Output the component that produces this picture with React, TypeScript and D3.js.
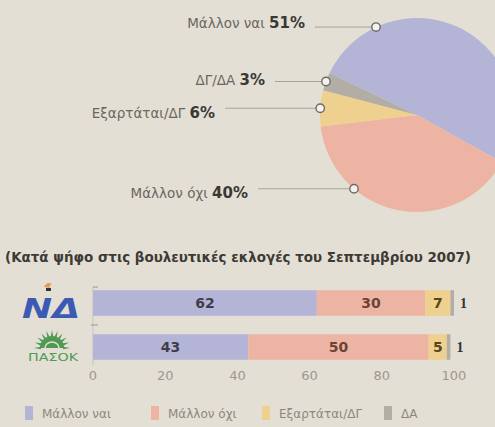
import React from "react";
import * as d3 from "d3";

// ---- data ----
const pieCategories = ["Μάλλον ναι", "Μάλλον όχι", "Εξαρτάται/ΔΓ", "ΔΓ/ΔΑ"];
const pieValues = [51, 40, 6, 3];

const parties = ["ΝΔ", "ΠΑΣΟΚ"];
const barSeries = ["Μάλλον ναι", "Μάλλον όχι", "Εξαρτάται/ΔΓ", "ΔΑ"];
const ndValues = [62, 30, 7, 1];
const pasokValues = [43, 50, 5, 1];
const xTicks = [0, 20, 40, 60, 80, 100];

const title = "(Κατά ψήφο στις βουλευτικές εκλογές του Σεπτεμβρίου 2007)";

// ---- style / layout ----
const W = 495;
const H = 427;
const BG = "#e3dfd5";
const COLORS = ["#b4b4d6", "#edb4a4", "#eed08f", "#b3aea5"];
const FONT = "'DejaVu Sans', 'Noto Sans', sans-serif";

const pieCx = 417;
const pieCy = 115;
const pieR = 97;
const deg = Math.PI / 180;
const pieStart = -64.4 * deg;

// label layout for pie (order follows pieCategories)
const pieLabelLayout = [
  { textX: 305, textY: 28, anchorDeg: -25 },
  { textX: 248, textY: 198, anchorDeg: 220.5 },
  { textX: 215, textY: 118, anchorDeg: null },
  { textX: 265, textY: 85, anchorDeg: null },
];

export default function App() {
  const pie = d3
    .pie<number>()
    .sort(null)
    .value((d) => d)
    .startAngle(pieStart)
    .endAngle(pieStart + 2 * Math.PI);
  const arcs = pie(pieValues);
  const arcGen = d3.arc<d3.PieArcDatum<number>>().innerRadius(0).outerRadius(pieR);

  const x = d3.scaleLinear().domain([0, 100]).range([93, 454]);
  const y = d3.scaleBand().domain(parties).range([288, 362]).paddingInner(0.42).paddingOuter(0.05);

  const rows = [ndValues, pasokValues];
  const stackedRows = rows.map((vals) => {
    let acc = 0;
    return vals.map((v, i) => {
      const s = acc;
      acc += v;
      return { start: s, end: acc, v, i };
    });
  });

  const labelColors = ["#3f3d4a", "#6b4438", "#5a4520", "#333"];

  return (
    <div style={{ position: "fixed", left: 0, top: 0, width: W, height: H, background: BG }}>
      <svg width={W} height={H} style={{ display: "block" }} fontFamily={FONT}>
        <rect width={W} height={H} fill={BG} />
        {/* pie */}
        <g transform={`translate(${pieCx},${pieCy})`}>
          {arcs.map((a, i) => (
            <path key={i} d={arcGen(a) as string} fill={COLORS[i]} />
          ))}
        </g>
        {/* pie labels */}
        {arcs.map((a, i) => {
          const L = pieLabelLayout[i];
          const ang = L.anchorDeg !== null ? L.anchorDeg * deg : (a.startAngle + a.endAngle) / 2;
          const cx = pieCx + Math.sin(ang) * pieR;
          const cy = pieCy - Math.cos(ang) * pieR;
          return (
            <g key={i}>
              <line x1={L.textX + 10} y1={cy} x2={cx} y2={cy} stroke="#a9a49b" strokeWidth={1} />
              <circle cx={cx} cy={cy} r={4.2} fill="#f4f2ee" stroke="#6e6a64" strokeWidth={1.4} />
              <text x={L.textX} y={L.textY} textAnchor="end" fontSize={13.5} fill="#6a6660">
                {pieCategories[i]}{" "}
                <tspan fontWeight="bold" fontSize={15} fill="#3a3835">
                  {pieValues[i]}%
                </tspan>
              </text>
            </g>
          );
        })}

        {/* title */}
        <text x={5} y={262} fontSize={13.5} fontWeight="bold" fill="#3d3a36" textLength={466} lengthAdjust="spacingAndGlyphs">
          {title}
        </text>

        {/* axis line */}
        <line x1={x(0)} x2={x(0)} y1={287} y2={365} stroke="#c8c3b8" strokeWidth={1} />
        <line x1={x(0)} x2={x(0) + 5} y1={287} y2={287} stroke="#9d988f" strokeWidth={1} />
        <line x1={x(0) - 2} x2={x(0) + 5} y1={325} y2={325} stroke="#9d988f" strokeWidth={1} />

        {/* bars */}
        {stackedRows.map((row, r) => {
          const yy = y(parties[r]) as number;
          const bh = y.bandwidth();
          return (
            <g key={r}>
              {row.map((seg) => (
                <rect key={seg.i} x={x(seg.start)} y={yy} width={x(seg.end) - x(seg.start)} height={bh} fill={COLORS[seg.i]} />
              ))}
              {row.map((seg) =>
                seg.i < 3 ? (
                  <text
                    key={"t" + seg.i}
                    x={(x(seg.start) + x(seg.end)) / 2}
                    y={yy + bh / 2 + 5}
                    textAnchor="middle"
                    fontSize={14}
                    fontWeight="bold"
                    fill={labelColors[seg.i]}
                  >
                    {seg.v}
                  </text>
                ) : (
                  <text
                    key={"t" + seg.i}
                    x={x(seg.end) + 6}
                    y={yy + bh / 2 + 5}
                    fontSize={14}
                    fontWeight="bold"
                    fill="#333"
                    fontFamily="'Liberation Serif', serif"
                  >
                    {seg.v}
                  </text>
                )
              )}
            </g>
          );
        })}

        {/* x tick labels */}
        {xTicks.map((t) => (
          <text key={t} x={x(t)} y={380} textAnchor="middle" fontSize={13} fill="#9d9890">
            {t}
          </text>
        ))}

        {/* ND logo */}
        <g>
          <path d="M44,287 q3,-6 8,-3 q-3,1 -2,4 z" fill="#e0a050" />
          <rect x={46} y={288} width={5} height={3} fill="#333" />
          <text x={22} y={318} fontSize={27} fontWeight="bold" fontStyle="italic" fill="#3c5ab4" textLength={58} lengthAdjust="spacingAndGlyphs">
            {parties[0]}
          </text>
        </g>
        {/* PASOK logo */}
        <g>
          {d3.range(11).map((k) => {
            const a = (-90 + (k * 180) / 10) * deg;
            const c = 52;
            const cy = 348;
            return (
              <path
                key={k}
                d={`M${c + Math.sin(a - 0.12) * 11},${cy - Math.cos(a - 0.12) * 11} L${c + Math.sin(a) * 18},${cy - Math.cos(a) * 18} L${c + Math.sin(a + 0.12) * 11},${cy - Math.cos(a + 0.12) * 11} Z`}
                fill="#4f9a52"
              />
            );
          })}
          <path d="M40,348 A12,12 0 0 1 64,348 Z" fill="#4f9a52" />
          <path d="M45,348 A7,6 0 0 1 59,348" fill="none" stroke="#e3dfd5" strokeWidth={1.5} />
          <text x={28} y={361} fontSize={10} fill="#4f9a52" textLength={50} lengthAdjust="spacingAndGlyphs">
            {parties[1]}
          </text>
        </g>

        {/* legend */}
        {barSeries.map((s, i) => {
          const lx = [25, 151, 262, 384][i];
          return (
            <g key={s}>
              <rect x={lx} y={406} width={8} height={14} fill={COLORS[i]} />
              <text x={lx + 17} y={418} fontSize={12} fill="#8c877f">
                {s}
              </text>
            </g>
          );
        })}
      </svg>
    </div>
  );
}
